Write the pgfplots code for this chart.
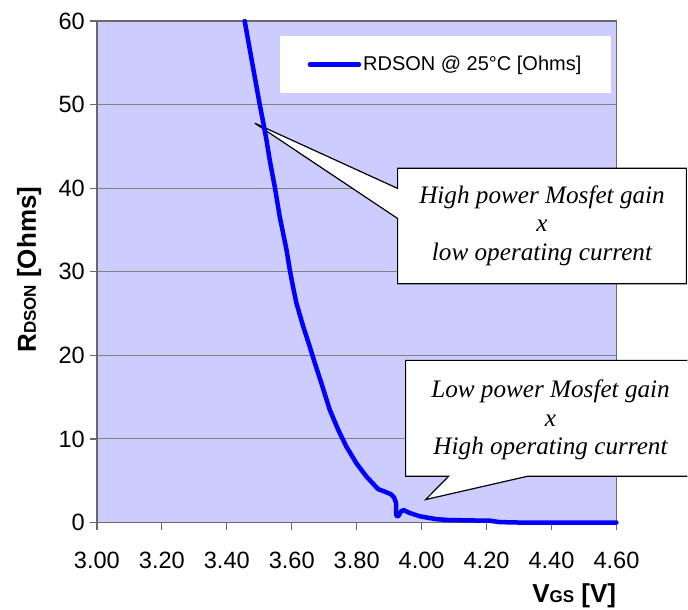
\documentclass[border=0pt]{standalone}
\usepackage{fontspec}
\setmainfont{Liberation Sans}
\newfontfamily\callfont{Liberation Serif}
\usepackage{pgfplots}
\pgfplotsset{compat=1.18}
\definecolor{bgp}{RGB}{204,204,255}
\definecolor{gridc}{RGB}{128,128,128}
\definecolor{axc}{RGB}{105,105,105}

\begin{document}
\begin{tikzpicture}
\path (0,0) rectangle (344pt,305pt);
\begin{axis}[
  set layers,
  at={(48.5pt,43.5pt)}, anchor=south west,
  scale only axis, width=260pt, height=251pt,
  xmin=3, xmax=4.6, ymin=0, ymax=60,
  xtick={3,3.2,3.4,3.6,3.8,4,4.2,4.4,4.6},
  ytick={0,10,20,30,40,50,60},
  xtick pos=left, ytick pos=left,
  tick align=outside,
  major tick length=3.5pt,
  tick style={axc, line width=0.6pt},
  ymajorgrids,
  grid style={gridc, line width=0.5pt},
  axis background/.style={fill=bgp},
  axis line style={axc, line width=0.6pt},
  clip=false,
  /pgf/number format/assume math mode=true,
  ticklabel style={font=\fontsize{11.8}{14}\selectfont, text=black},
  xticklabel style={/pgf/number format/fixed, /pgf/number format/fixed zerofill, /pgf/number format/precision=2, yshift=-7.5pt},
  yticklabel style={xshift=1pt},
  xlabel={\textbf{V{\fontsize{8.5}{10}\selectfont GS} [V]}},
  ylabel={\textbf{R{\fontsize{8.5}{10}\selectfont DSON} [Ohms]}},
  xlabel style={at={(rel axis cs:1,-0.1594)}, anchor=base east, inner sep=0pt, font=\fontsize{13}{15}\selectfont},
  ylabel style={at={(rel axis cs:-0.1173,0.504)}, anchor=base, inner sep=0pt, font=\fontsize{13}{15}\selectfont},
  legend style={draw=none, fill=white, at={(rel axis cs:0.671,0.9133)}, anchor=center,
    minimum width=166pt, minimum height=28.5pt, font=\fontsize{10}{12}\selectfont,
    nodes={minimum width=0pt, minimum height=0pt, inner sep=1pt}},
  legend image code/.code={\draw[#1, line cap=round] (0pt,0pt) -- (24.5pt,0pt);},
]
\begin{pgfonlayer}{pre main}
\draw[black, line width=0.6pt, fill=white, line join=miter]
  (axis cs:3.92615,42.394) -- (axis cs:4.81538,42.394) -- (axis cs:4.81538,28.566)
  -- (axis cs:3.92615,28.566) -- (axis cs:3.92615,36.371) -- (axis cs:3.48615,47.773)
  -- (axis cs:3.92615,39.968) -- cycle;
\fill[white]
  (axis cs:3.95077,19.398) -- (axis cs:4.8185,19.398) -- (axis cs:4.8185,5.534)
  -- (axis cs:4.32615,5.534) -- (axis cs:4.01231,2.749) -- (axis cs:4.08308,5.534)
  -- (axis cs:3.95077,5.534) -- cycle;
\draw[black, line width=0.6pt, line join=miter]
  (axis cs:4.8185,19.398) -- (axis cs:3.95077,19.398) -- (axis cs:3.95077,5.534)
  -- (axis cs:4.08308,5.534) -- (axis cs:4.01231,2.749) -- (axis cs:4.32615,5.534)
  -- (axis cs:4.8185,5.534);
\node[align=center, inner sep=0pt, font=\callfont\itshape\fontsize{12.6}{14.2}\selectfont]
  at (axis cs:4.37077,35.5) {High power Mosfet gain\\x\\low operating current};
\node[align=center, inner sep=0pt, font=\callfont\itshape\fontsize{12.6}{14.2}\selectfont]
  at (axis cs:4.39692,12.25) {Low power Mosfet gain\\x\\High operating current};
\end{pgfonlayer}
\addplot[blue, line width=2.25pt, line join=round, line cap=round] coordinates {
(3.455,60) (3.481,54.4) (3.5015,50.0) (3.514,47.5) (3.522,45.8) (3.532,43.4)
(3.548,40.1) (3.563,36.6) (3.584,32.6) (3.595,30.0) (3.605,28.0) (3.614,26.3)
(3.635,23.5) (3.655,21.1) (3.671,19.1) (3.691,16.7) (3.717,13.5) (3.743,11.1)
(3.768,9.1) (3.799,7.1) (3.830,5.5) (3.866,4.0) (3.886,3.7) (3.905,3.4)
(3.915,3.0) (3.921,2.4) (3.922,0.8) (3.928,0.75) (3.936,1.3) (3.944,1.5)
(3.963,1.15) (3.994,0.75) (4.045,0.4) (4.086,0.3) (4.15,0.25) (4.21,0.22)
(4.24,0.05) (4.30,0) (4.60,0)
};
\addlegendentry{RDSON @ 25°C [Ohms]}
\end{axis}
\end{tikzpicture}
\end{document}
